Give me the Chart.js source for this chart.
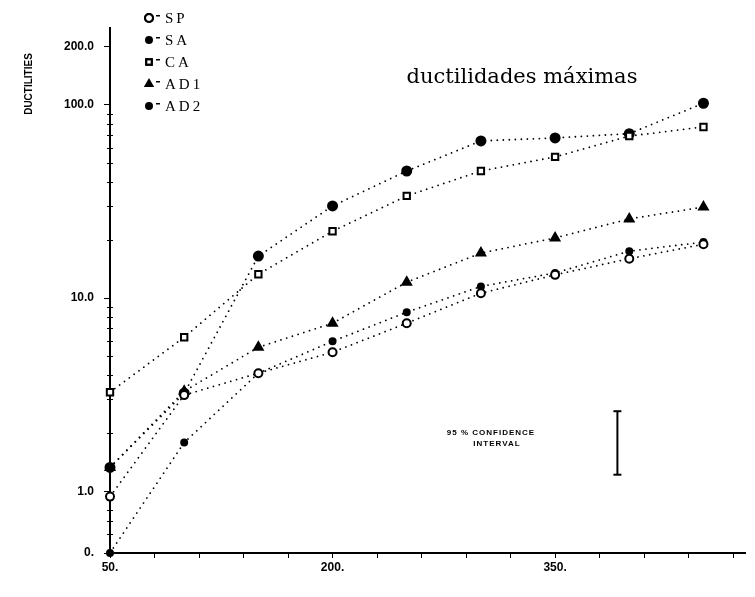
<!DOCTYPE html>
<html>
<head>
<meta charset="utf-8">
<script src="https://cdn.jsdelivr.net/npm/chart.js@4.4.1/dist/chart.umd.min.js"></script>
<style>
  html, body { margin: 0; padding: 0; background: #fff; }
  #wrap { width: 755px; height: 597px; }
</style>
</head>
<body>
<div id="wrap"><canvas id="duct" width="755" height="597"></canvas></div>
<script>
// x values (load level) and ductility per series
const X_VALUES = [50, 100, 150, 200, 250, 300, 350, 400, 450];
const SP  = [0.94, 3.15, 4.09, 5.25, 7.42, 10.6, 13.2, 16.0, 19.0];
const SA  = [0.48, 1.79, 4.09, 5.98, 8.46, 11.5, 13.5, 17.5, 19.5];
const CA  = [3.26, 6.28, 13.3, 22.2, 33.8, 45.5, 53.8, 69.0, 76.9];
const AD1 = [1.33, 3.30, 5.57, 7.42, 12.1, 17.1, 20.5, 25.7, 29.6];
const AD2 = [1.33, 3.22, 16.5, 30.0, 45.5, 65.1, 67.5, 71.0, 102];

const SERIES_NAMES = ['SP', 'SA', 'CA', 'AD1', 'AD2'];

// 95 % confidence interval bar
const CI_X = [392, 392];
const CI_Y = [1.22, 2.6];

// axis ticks
const X_TICKS = [50, 80, 110, 140, 170, 200, 230, 260, 290, 320, 350, 380, 410, 440, 470];
const X_LABEL_AT = [50, 200, 350];
const X_LABEL_TEXT = ['50.', '200.', '350.'];
const Y_TICKS = [0.48, 1, 10, 100, 200];
const Y_TICK_TEXT = ['0.', '1.0', '10.0', '100.0', '200.0'];
const Y_MINOR = [0.6, 0.7, 0.8, 0.9, 2, 3, 4, 5, 6, 7, 8, 9, 20, 30, 40, 50, 60, 70, 80, 90];

const STYLES = {
  SP:  { pointStyle: 'circle',   radius: 4,   fill: '#fff' },
  SA:  { pointStyle: 'circle',   radius: 3,   fill: '#000' },
  CA:  { pointStyle: 'rect',     radius: 4.5, fill: '#fff' },
  AD1: { pointStyle: 'triangle', radius: 5,   fill: '#000' },
  AD2: { pointStyle: 'circle',   radius: 4.5, fill: '#000' }
};

const seriesData = { SP, SA, CA, AD1, AD2 };

const datasets = SERIES_NAMES.map(name => {
  const st = STYLES[name];
  return {
    label: name,
    data: X_VALUES.map((x, i) => ({ x, y: seriesData[name][i] })),
    showLine: true,
    borderColor: '#000',
    borderWidth: 1.8,
    borderDash: [0.01, 6],
    borderCapStyle: 'round',
    pointStyle: st.pointStyle,
    pointRadius: st.radius,
    pointBackgroundColor: st.fill,
    pointBorderColor: '#000',
    pointBorderWidth: 2,
    clip: false
  };
});

datasets.push({
  label: 'CI',
  data: CI_X.map((x, i) => ({ x, y: CI_Y[i] })),
  showLine: true,
  borderColor: '#000',
  borderWidth: 2,
  pointStyle: 'line',
  pointRadius: 4,
  pointBorderWidth: 2,
  pointBorderColor: '#000'
});

const tickFont = { family: 'Liberation Sans', size: 12, weight: 'bold' };

const extras = {
  id: 'extras',
  afterDraw(chart) {
    const { ctx, scales: { x, y } } = chart;
    ctx.save();
    ctx.strokeStyle = '#000';
    ctx.fillStyle = '#000';

    // minor ticks on the log axis
    ctx.lineWidth = 1;
    Y_MINOR.forEach(v => {
      const py = Math.round(y.getPixelForValue(v)) + 0.5;
      ctx.beginPath();
      ctx.moveTo(x.left - 3, py);
      ctx.lineTo(x.left + 3, py);
      ctx.stroke();
    });

    // axis title
    ctx.save();
    ctx.translate(29, 84);
    ctx.rotate(-Math.PI / 2);
    ctx.font = 'bold 10px "Liberation Sans Narrow", "Liberation Sans"';
    ctx.textAlign = 'center';
    ctx.textBaseline = 'middle';
    ctx.fillText('DUCTILITIES', 0, 0);
    ctx.restore();

    // title
    ctx.font = '21px "DejaVu Serif"';
    ctx.textAlign = 'center';
    ctx.textBaseline = 'alphabetic';
    ctx.fillText('ductilidades máximas', 522, 83);

    // legend
    const rows = [18, 40, 62, 84, 106];
    ctx.textAlign = 'left';
    ctx.textBaseline = 'middle';
    SERIES_NAMES.forEach((name, i) => {
      const st = STYLES[name];
      ctx.fillStyle = st.fill;
      ctx.lineWidth = 2;
      Chart.helpers.drawPoint(ctx, {
        pointStyle: st.pointStyle,
        radius: name === 'AD2' ? 3 : Math.min(st.radius, 4),
        rotation: 0,
        borderWidth: 2
      }, 149, rows[i]);
      if (st.fill === '#fff') ctx.stroke();
      ctx.fillStyle = '#000';
      ctx.fillRect(156, rows[i] - 3, 4, 1.5);
      ctx.font = '15px "Liberation Serif"';
      ctx.letterSpacing = '3px';
      ctx.fillText(name, 165, rows[i] + 1);
      ctx.letterSpacing = '0px';
    });

    // confidence interval label
    ctx.font = 'bold 8px "Liberation Sans"';
    ctx.letterSpacing = '1px';
    ctx.textAlign = 'center';
    ctx.fillText('95 % CONFIDENCE', 491, 433);
    ctx.fillText('INTERVAL', 497, 444);
    ctx.restore();
  }
};

new Chart(document.getElementById('duct'), {
  type: 'scatter',
  data: { datasets },
  options: {
    responsive: false,
    animation: false,
    layout: { padding: { top: 28, right: 10, left: 0, bottom: 0 } },
    plugins: { legend: { display: false }, tooltip: { enabled: false } },
    scales: {
      x: {
        type: 'linear',
        min: 50,
        max: 478,
        afterBuildTicks: s => { s.ticks = X_TICKS.map(v => ({ value: v })); },
        afterFit: s => { s.height = 44; },
        ticks: {
          autoSkip: false,
          maxRotation: 0,
          padding: 2,
          color: '#000',
          font: tickFont,
          callback: v => {
            const k = X_LABEL_AT.indexOf(v);
            return k >= 0 ? X_LABEL_TEXT[k] : '';
          }
        },
        grid: { drawOnChartArea: false, tickLength: 5, color: '#000', lineWidth: 1 },
        border: { color: '#000', width: 2 }
      },
      y: {
        type: 'logarithmic',
        min: 0.48,
        max: 250,
        afterBuildTicks: s => { s.ticks = Y_TICKS.map(v => ({ value: v })); },
        afterFit: s => { s.width = 110; },
        ticks: {
          autoSkip: false,
          padding: 10,
          color: '#000',
          font: tickFont,
          callback: (v, i) => Y_TICK_TEXT[i]
        },
        grid: { drawOnChartArea: false, tickLength: 6, color: '#000', lineWidth: 1 },
        border: { color: '#000', width: 2 }
      }
    }
  },
  plugins: [extras]
});
</script>
</body>
</html>
